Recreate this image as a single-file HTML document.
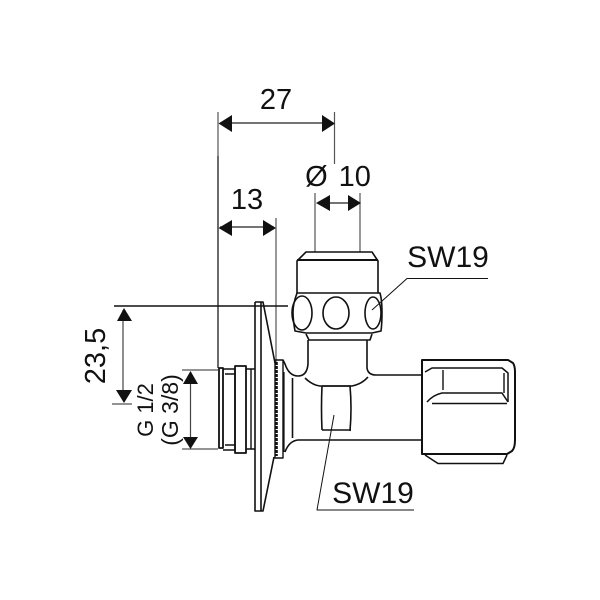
<!DOCTYPE html>
<html><head><meta charset="utf-8"><style>
html,body{margin:0;padding:0;background:#fff}
svg{display:block}
text{font-family:"Liberation Sans",sans-serif;fill:#111}
</style></head><body>
<svg width="600" height="600" viewBox="0 0 600 600" xmlns="http://www.w3.org/2000/svg">
<rect width="600" height="600" fill="#fff"/>
<!-- extension lines -->
<g fill="none" stroke="#555" stroke-width="1.2">
<path d="M218 112V368"/>
<path d="M218 156V368" stroke="#222"/>
<path d="M334.500 112V164"/>
<path d="M276 218V363"/>
<path d="M315 193V252M360 193V252"/>
<path d="M114 306H288" stroke="#111" stroke-width="1.5"/>
<path d="M112 404H132"/>
<path d="M182 370H218M182 449H218"/>
<path d="M123 310V395M190.500 372V447" stroke="#444"/>
<path d="M220 123H332M320 203H358M220 227H274" stroke="#222"/>
</g>
<!-- arrowheads -->
<g fill="#111">
<path d="M218.500 123.500L232 115V132ZM335 123.500L322 115V132Z"/>
<path d="M316 203L330 195V211ZM361 203L348 195V211Z"/>
<path d="M218.500 228L232 220V236ZM276 228L263 220V236Z"/>
<path d="M124 308L117 321H132ZM124 403L116 390H132Z"/>
<path d="M190.500 371L183 384H198ZM190.500 449L183 437H198Z"/>
</g>
<!-- drawing -->
<g fill="none" stroke="#111" stroke-width="1.6" stroke-linejoin="round">
<!-- cap -->
<path d="M297 293V261L306 252H372L378 261V293"/>
<path d="M297 260H378" stroke-width="2"/>
<path d="M297 293H380Q382 300 382 312T381 331L372 333H306L295 331Q293 320 293 312T297 293Z"/>
<ellipse cx="302" cy="313" rx="10" ry="17"/>
<ellipse cx="336" cy="313" rx="13" ry="16"/>
<ellipse cx="373" cy="313" rx="8" ry="16"/>
<path d="M306 334L309 340H370L372 334"/>
<path d="M308 340V364Q307 376 298 376Q289 376 285 364L283 360"/>
<path d="M367 340V368Q368 375 376 375H422"/>
<path d="M305 378Q312 385 320 386H352Q362 384 368 377"/>
<!-- stem hex -->
<path d="M322 386Q321 408 322 430M350 386Q352 408 350 431M322 430H351M322 386H351"/>
<!-- pipe lower -->
<path d="M285 452Q289 441 298 440H422"/>
<path d="M292.500 378V438" stroke-width="1.6"/>
<!-- flange collar -->
<path d="M275 360H283V458H275Z" stroke-width="1.4"/>
<path d="M276.500 362V456" stroke-width="2.6" stroke-dasharray="3 1"/>
<path d="M284 372V452" stroke-width="1.2"/>
<!-- wall plate -->
<path d="M255 302V511H263L274 457M255 302H263L275 363"/>
<path d="M261 302V511"/>
<!-- thread -->
<path d="M219 368H223V448H219Z" stroke-width="1.8"/>
<path d="M223 369H235V450H223M225 374H235M225 445H235" stroke-width="1.4"/>
<path d="M235 366H246V453H235Z" stroke-width="1.8"/>
<path d="M246 369H255M246 449H255" stroke-width="1.4"/>
<path d="M251 369V449" stroke-width="1.4"/>
<!-- nut -->
<path d="M422 360H508L513 363Q515 366 515 372V440Q515 448 512 451L507 454H422Z" stroke-width="2"/>
<path d="M425 372L432 368H502L508 373V402" stroke-width="1.5"/>
<path d="M443 370V390" stroke-width="1.4"/>
<path d="M504 373V393" stroke-width="1.4"/>
<path d="M427 402Q433 395 442 393H502L508 402" stroke-width="1.5"/>
<path d="M432 403.500H507" stroke-width="1.5"/>
<path d="M425 455L438 463.500H503L507 455" stroke-width="1.5"/>
<!-- leaders -->
<path d="M372 310L407 278.500H488" stroke-width="1"/>
<path d="M334 415L317 510H414" stroke-width="1"/>
</g>
<!-- labels -->
<text x="276" y="109" font-size="29" text-anchor="middle">27</text>
<text x="247" y="209" font-size="29" text-anchor="middle">13</text>
<text x="338" y="186" font-size="29" text-anchor="middle" word-spacing="3">Ø 10</text>
<text x="448" y="267" font-size="30" text-anchor="middle">SW19</text>
<text x="373" y="503" font-size="30" text-anchor="middle">SW19</text>
<text transform="translate(105 356) rotate(-90)" font-size="29" text-anchor="middle">23,5</text>
<text transform="translate(153 410) rotate(-90)" font-size="22" text-anchor="middle">G 1/2</text>
<text transform="translate(178 410) rotate(-90)" font-size="23" text-anchor="middle">(G 3/8)</text>
</svg>
</body></html>
